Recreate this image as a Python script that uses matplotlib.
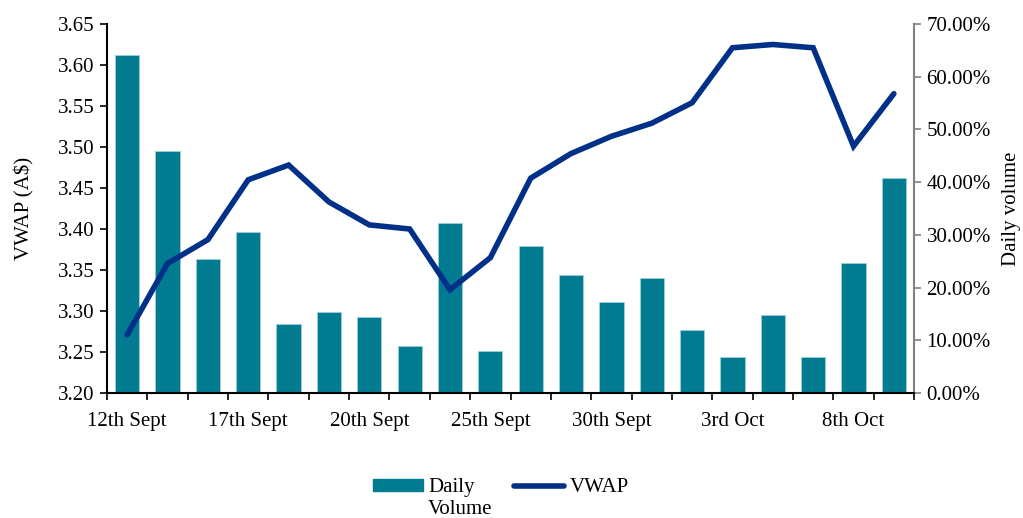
import numpy as np
import matplotlib
matplotlib.use("Agg")
import matplotlib.pyplot as plt
from matplotlib.ticker import FuncFormatter, FixedLocator

# data
volume = [64.1, 45.9, 25.5, 30.5, 13.0, 15.4, 14.4, 9.0, 32.3, 8.0,
          27.9, 22.3, 17.3, 21.9, 12.0, 6.9, 14.8, 6.9, 24.7, 40.8]
vwap = [3.271, 3.358, 3.387, 3.460, 3.478, 3.433, 3.405, 3.400, 3.326, 3.365,
        3.462, 3.492, 3.513, 3.529, 3.554, 3.621, 3.625, 3.621, 3.501, 3.565]
tick_pos = [0, 3, 6, 9, 12, 15, 18]
tick_labels = ['12th Sept', '17th Sept', '20th Sept', '25th Sept',
               '30th Sept', '3rd Oct', '8th Oct']

plt.rcParams['font.family'] = ['Liberation Serif', 'DejaVu Serif']
plt.rcParams['font.size'] = 15

bar_color = '#007b91'
line_color = '#003087'

x = np.arange(len(volume))

fig = plt.figure(figsize=(10.23, 5.18), dpi=100)
ax = fig.add_axes([0.1046, 0.2413, 0.7889, 0.7124])
ax2 = ax.twinx()

ax2.bar(x, volume, width=0.6, color=bar_color, edgecolor='#9fd0da', linewidth=0.6)
ax.plot(x, vwap, color=line_color, linewidth=4, solid_capstyle='round',
        solid_joinstyle='miter')

ax.set_zorder(ax2.get_zorder() + 1)
ax.patch.set_visible(False)

ax.set_xlim(-0.5, len(volume) - 0.5)
ax.set_ylim(3.20, 3.65)
ax.set_yticks(np.arange(3.20, 3.651, 0.05))
ax.yaxis.set_major_formatter(FuncFormatter(lambda v, p: f'{v:.2f}'))
ax2.set_ylim(0, 70)
ax2.set_yticks(np.arange(0, 71, 10))
ax2.yaxis.set_major_formatter(FuncFormatter(lambda v, p: f'{v:.2f}%'))

ax.set_xticks(tick_pos)
ax.set_xticklabels(tick_labels)
ax.xaxis.set_minor_locator(FixedLocator(np.arange(-0.5, len(volume), 1)))
ax.tick_params(axis='x', which='major', length=0, pad=14)
ax.tick_params(axis='x', which='minor', length=5, width=1.2, direction='out')
ax.tick_params(axis='y', length=5, width=1.2, direction='out', pad=4)
ax2.tick_params(axis='y', length=5, width=1.2, direction='out', color='#808080', pad=4)

for a in (ax, ax2):
    a.spines['top'].set_visible(False)
ax.spines['right'].set_visible(False)
ax2.spines['left'].set_visible(False)
ax2.spines['bottom'].set_visible(False)
ax.spines['left'].set_linewidth(1.5)
ax.spines['bottom'].set_linewidth(1.5)
ax2.spines['right'].set_color('#808080')
ax2.spines['right'].set_linewidth(1.5)

ax.set_ylabel('VWAP (A$)', labelpad=17)
ax2.set_ylabel('Daily volume', rotation=90, labelpad=8)

handles = [plt.Rectangle((0, 0), 1, 1, color=bar_color),
           plt.Line2D([0], [0], color=line_color, linewidth=4, solid_capstyle='round')]
leg = fig.legend(handles, ['Daily', 'VWAP'], loc='center', ncol=2,
                 bbox_to_anchor=(0.4896, 0.058), frameon=False, handlelength=2.4,
                 handleheight=0.55, columnspacing=1.9, handletextpad=0.25)

# second line of the bar label, set under "Daily"
fig.canvas.draw()
bb = leg.get_texts()[0].get_window_extent().transformed(fig.transFigure.inverted())
fig.text(bb.x0, bb.y0 - 0.004, 'Volume', ha='left', va='top')

fig.savefig('out.png', dpi=100)
